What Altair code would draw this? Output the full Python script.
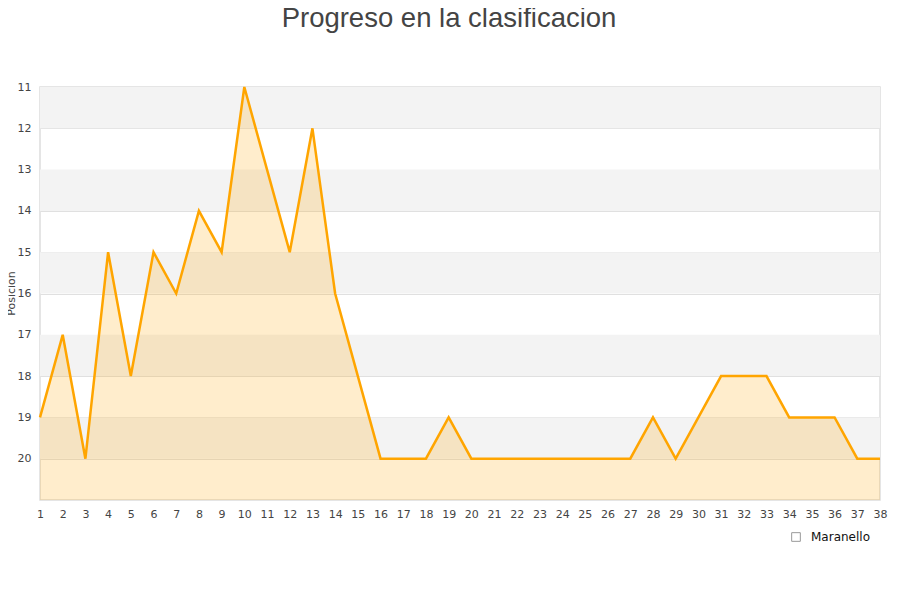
import altair as alt
import pandas as pd

jornadas = list(range(1, 39))
posiciones = [19, 17, 20, 15, 18, 15, 16, 14, 15, 11, 13, 15, 12, 16, 18, 20, 20, 20, 19, 20,
              20, 20, 20, 20, 20, 20, 20, 19, 20, 19, 18, 18, 18, 19, 19, 19, 20, 20]
equipo = "Maranello"

df = pd.DataFrame({"jornada": jornadas, "posicion": posiciones, "equipo": equipo})

band_starts = [11, 13, 15, 17, 19]
bands = pd.DataFrame({"y1": band_starts, "y2": [b + 1 for b in band_starts]})

xscale = alt.Scale(domain=[1, 38], nice=False, zero=False)
yscale = alt.Scale(domain=[11, 21], reverse=True, nice=False, zero=False)

xaxis = alt.Axis(values=jornadas, title=None, grid=False, ticks=False,
                 domain=False, labelPadding=8, labelFontSize=11,
                 labelColor="#444", labelFont="DejaVu Sans",
                 labelFlush=False, labelOverlap=False, format="d")
yaxis = alt.Axis(values=list(range(11, 21)), title="Posicion",
                 grid=True, gridColor="#e0e0e0", ticks=False,
                 domain=False, labelPadding=9, labelFontSize=11,
                 labelColor="#444", labelFont="DejaVu Sans",
                 titleFont="DejaVu Sans", titleFontSize=11,
                 titleFontWeight="normal", titleColor="#444",
                 titleX=-35, titleY=206, titleAngle=270, titleAlign="center",
                 titleBaseline="top", labelOverlap=False, format="d")

X = alt.X("jornada:Q", scale=xscale, axis=xaxis)
Y = alt.Y("posicion:Q", scale=yscale, axis=yaxis)

band_layer = alt.Chart(bands).mark_rect(fill="#f3f3f3").encode(
    y=alt.Y("y1:Q", scale=yscale, axis=yaxis),
    y2="y2:Q",
    x=alt.value(0),
    x2=alt.value(840),
)

area = alt.Chart(df).mark_area(opacity=0.2, line=False, color="#FFA500").encode(
    x=X,
    y=Y,
    y2=alt.datum(21),
)

line = alt.Chart(df).mark_line(color="#FFA500", strokeWidth=2.5).encode(
    x=X,
    y=Y,
)

legend_layer = alt.Chart(df.head(1)).mark_point(filled=False, opacity=0).encode(
    x=alt.value(100),
    y=alt.value(100),
    shape=alt.Shape("equipo:N", scale=alt.Scale(range=["square"]),
                    legend=alt.Legend(title=None, orient="none", legendX=750,
                                      legendY=444, padding=0,
                                      symbolSize=75, symbolOpacity=1,
                                      symbolFillColor="#FFEDCC",
                                      symbolStrokeColor="#999999",
                                      symbolStrokeWidth=1,
                                      labelFont="DejaVu Sans", labelFontSize=12,
                                      labelOffset=9, labelColor="#111")),
)

chart = alt.layer(band_layer, area, line, legend_layer).properties(
    width=840,
    height=413,
    padding={"left": 32, "top": 79, "right": 12, "bottom": 80},
    autosize=alt.AutoSizeParams(type="none"),
    title=alt.TitleParams("Progreso en la clasificacion", fontSize=27.5,
                          font="Liberation Sans", fontWeight="normal",
                          color="#444", anchor="middle", offset=49, dx=-11),
).configure_view(stroke="#dddddd", strokeWidth=1.5
).configure_axis(labelOverlap=False, labelFontSize=11, labelFont="DejaVu Sans")

chart.save("out.html", embed_options={"renderer": "svg", "actions": False})
